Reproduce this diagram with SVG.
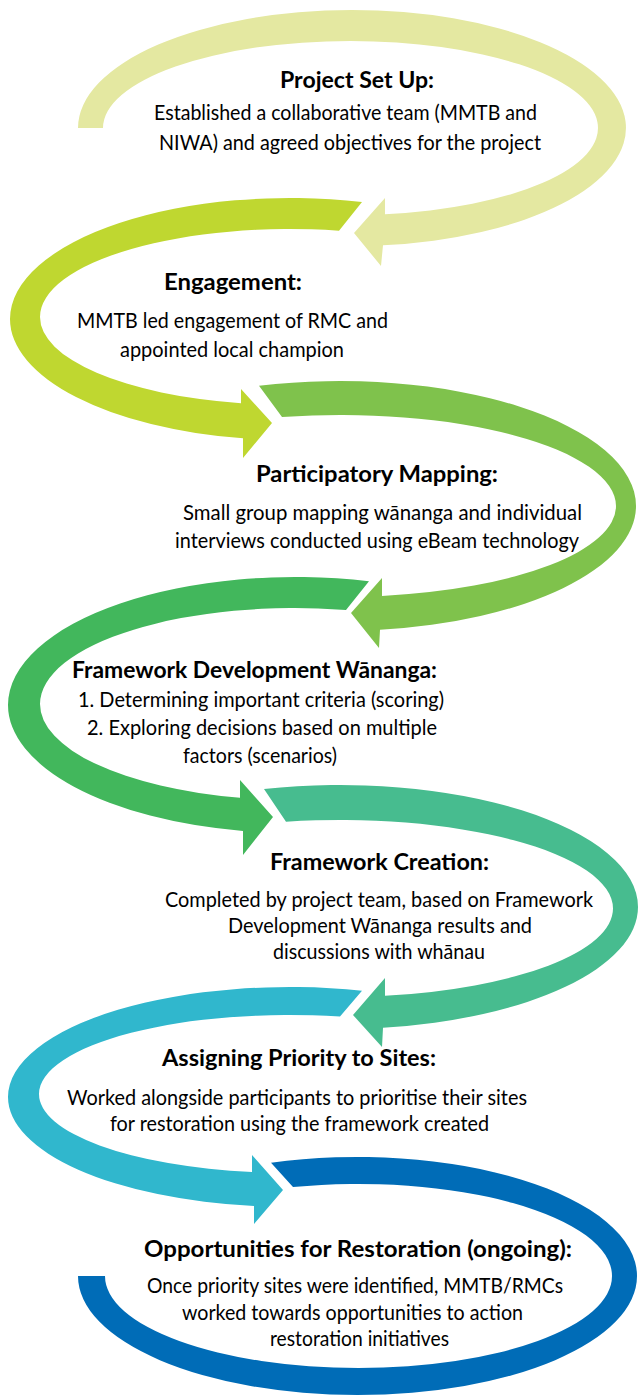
<svg xmlns="http://www.w3.org/2000/svg" width="638" height="1398" viewBox="0 0 638 1398">
<style>
.h{font-family:Lato,"Open Sans","Liberation Sans",sans-serif;font-weight:700;font-size:23px;fill:#000}
.b{font-family:Lato,"Open Sans","Liberation Sans",sans-serif;font-weight:400;font-size:21px;fill:#000}
</style>
<rect width="638" height="1398" fill="#fff"/>
<g id="step1">
<path fill="#e4e8a1" d="M 78,128 A 274 118 0 0 1 352,10 A 274 118 0 0 1 383,245.24 L 381,266 L 354,233 L 385,198 L 385,214.15 A 247.5 87 0 0 0 350.5,41 A 247.5 87 0 0 0 103,128 Z"/>
<text class="h" x="280" y="88" textLength="154" lengthAdjust="spacingAndGlyphs">Project Set Up:</text>
<text class="b" x="154" y="120" textLength="383" lengthAdjust="spacingAndGlyphs">Established a collaborative team (MMTB and</text>
<text class="b" x="159" y="150" textLength="382" lengthAdjust="spacingAndGlyphs">NIWA) and agreed objectives for the project</text>
</g>
<g id="step2">
<path fill="#bfd730" d="M 362,202.07 A 280 121 0 0 0 10,319 A 280 121 0 0 0 243,438.26 L 243,458 L 272,423 L 241,389 L 241,403.29 A 250 88 0 0 1 40,317 A 250 88 0 0 1 339,230.71 Z"/>
<text class="h" x="164" y="290" textLength="138" lengthAdjust="spacingAndGlyphs">Engagement:</text>
<text class="b" x="77" y="328" textLength="311" lengthAdjust="spacingAndGlyphs">MMTB led engagement of RMC and</text>
<text class="b" x="120" y="357" textLength="224" lengthAdjust="spacingAndGlyphs">appointed local champion</text>
</g>
<g id="step3">
<path fill="#7fc24c" d="M 259,385.77 A 296 125 0 0 1 636,506 A 296 125 0 0 1 380,629.85 L 379,648 L 351,613 L 382,578 L 382,595.94 A 276 91 0 0 0 616,506 A 276 91 0 0 0 282,417.03 Z"/>
<text class="h" x="256" y="482" textLength="242" lengthAdjust="spacingAndGlyphs">Participatory Mapping:</text>
<text class="b" x="183" y="520" textLength="399" lengthAdjust="spacingAndGlyphs">Small group mapping wānanga and individual</text>
<text class="b" x="175" y="548" textLength="404" lengthAdjust="spacingAndGlyphs">interviews conducted using eBeam technology</text>
</g>
<g id="step4">
<path fill="#42b75c" d="M 369,581.33 A 287 128 0 0 0 8,705 A 287 128 0 0 0 243,830.88 L 243,855 L 273,817 L 240,780 L 240,797.74 A 255 96 0 0 1 40,704 A 255 96 0 0 1 346,609.94 Z"/>
<text class="h" x="72" y="678" textLength="365" lengthAdjust="spacingAndGlyphs">Framework Development Wānanga:</text>
<text class="b" x="78" y="707" textLength="366" lengthAdjust="spacingAndGlyphs">1. Determining important criteria (scoring)</text>
<text class="b" x="87" y="735" textLength="350" lengthAdjust="spacingAndGlyphs">2. Exploring decisions based on multiple</text>
<text class="b" x="183" y="763" textLength="154" lengthAdjust="spacingAndGlyphs">factors (scenarios)</text>
</g>
<g id="step5">
<path fill="#47bc8f" d="M 264,789.03 A 298 122 0 0 1 638,907 A 298 122 0 0 1 383,1027.72 L 382,1047 L 353,1015 L 385,978 L 385,995.79 A 273 88.5 0 0 0 613,908.5 A 273 88.5 0 0 0 286,821.75 Z"/>
<text class="h" x="270" y="870" textLength="219" lengthAdjust="spacingAndGlyphs">Framework Creation:</text>
<text class="b" x="165" y="907" textLength="428" lengthAdjust="spacingAndGlyphs">Completed by project team, based on Framework</text>
<text class="b" x="228" y="933" textLength="304" lengthAdjust="spacingAndGlyphs">Development Wānanga results and</text>
<text class="b" x="273" y="959" textLength="212" lengthAdjust="spacingAndGlyphs">discussions with whānau</text>
</g>
<g id="step6">
<path fill="#30b7cd" d="M 362,990.65 A 282 110 0 0 0 8,1097 A 282 110 0 0 0 254,1206.1 L 254,1224 L 283,1190 L 252,1155 L 252,1172.09 A 251 79 0 0 1 39,1094 A 251 79 0 0 1 340,1016.58 Z"/>
<text class="h" x="162" y="1066" textLength="274" lengthAdjust="spacingAndGlyphs">Assigning Priority to Sites:</text>
<text class="b" x="67" y="1105" textLength="460" lengthAdjust="spacingAndGlyphs">Worked alongside participants to prioritise their sites</text>
<text class="b" x="110" y="1131" textLength="379" lengthAdjust="spacingAndGlyphs">for restoration using the framework created</text>
</g>
<g id="step7">
<path fill="#006cb7" d="M 271,1162.84 A 279.5 119 0 0 1 637,1276 A 279.5 119 0 0 1 357.5,1395 A 279.5 119 0 0 1 78,1276 L 105,1276 A 253.5 92 0 0 0 358.5,1368 A 253.5 92 0 0 0 612,1276 A 253.5 92 0 0 0 293,1187.12 Z"/>
<text class="h" x="144" y="1257" textLength="428" lengthAdjust="spacingAndGlyphs">Opportunities for Restoration (ongoing):</text>
<text class="b" x="147" y="1293" textLength="416" lengthAdjust="spacingAndGlyphs">Once priority sites were identified, MMTB/RMCs</text>
<text class="b" x="182" y="1320" textLength="341" lengthAdjust="spacingAndGlyphs">worked towards opportunities to action</text>
<text class="b" x="270" y="1346" textLength="179" lengthAdjust="spacingAndGlyphs">restoration initiatives</text>
</g>
<g id="connectors"/>
</svg>
